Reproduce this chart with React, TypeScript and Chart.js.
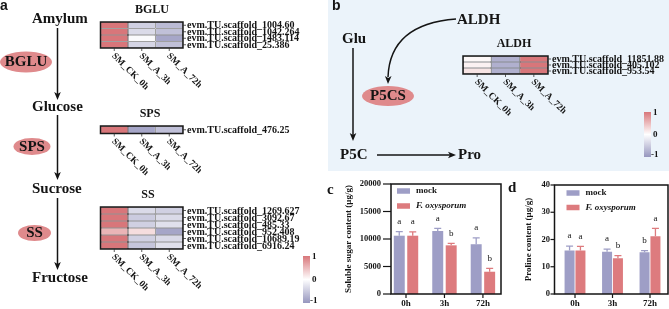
import React, { useEffect, useRef } from 'react';
import { Chart, registerables } from 'chart.js';
Chart.register(...registerables);

if (typeof document !== 'undefined') {
  document.body.style.margin = '0';
}

const SERIF = "'Liberation Serif', 'Times New Roman', serif";
const SANS = "'Liberation Sans', Arial, sans-serif";

// ---------------- data ----------------
const sampleLabels = ['SM_CK_0h', 'SM_A_3h', 'SM_A_72h'];

const bgluGenes = ['evm.TU.scaffold_1004.60', 'evm.TU.scaffold_1042.264', 'evm.TU.scaffold_1483.114', 'evm.TU.scaffold_25.386'];
const bgluValues = [
  [1, -0.45, -0.65],
  [1, -0.35, -0.6],
  [1, -0.05, -0.85],
  [1, -0.4, -0.6],
];

const spsGenes = ['evm.TU.scaffold_476.25'];
const spsValues = [[1, -0.85, -0.6]];

const ssGenes = [
  'evm.TU.scaffold_1269.627',
  'evm.TU.scaffold_3092.67',
  'evm.TU.scaffold_485.33',
  'evm.TU.scaffold_952.408',
  'evm.TU.scaffold_10689.19',
  'evm.TU.scaffold_6916.24',
];
const ssValues = [
  [1, -0.35, -0.45],
  [1, -0.5, -0.35],
  [1, -0.45, -0.3],
  [0.55, 0.25, -0.85],
  [1, -0.45, -0.35],
  [1, -0.55, -0.3],
];

const aldhGenes = ['evm.TU.scaffold_11851.88', 'evm.TU.scaffold_405.102', 'evm.TU.scaffold_953.54'];
const aldhValues = [
  [0.05, -0.75, 1],
  [0.1, -0.75, 1],
  [0.2, -0.75, 1],
];

const colorScaleLabels = ['1', '0', '-1'];

const timePoints = ['0h', '3h', '72h'];
const seriesNames = ['mock', 'F. oxysporum'];

const sugarMock = [10600, 11450, 9050];
const sugarMockErr = [750, 500, 1150];
const sugarFox = [10600, 8850, 4050];
const sugarFoxErr = [700, 370, 620];
const sugarMockSig = ['a', 'a', 'a'];
const sugarFoxSig = ['a', 'b', 'b'];
const sugarTicks = [0, 5000, 10000, 15000, 20000];

const prolineMock = [16.0, 15.5, 15.3];
const prolineMockErr = [1.6, 1.0, 0.6];
const prolineFox = [16.0, 13.1, 21.2];
const prolineFoxErr = [1.5, 1.0, 2.9];
const prolineMockSig = ['a', 'a', 'b'];
const prolineFoxSig = ['a', 'b', 'a'];
const prolineTicks = [0, 10, 20, 30, 40];

// ---------------- colours ----------------
const HI = [216, 118, 122];
const LO = [150, 150, 190];
const MOCK = '#9E9EC6';
const FOX = '#DD7B7E';
const ELLIPSE = '#DF8A8C';
const INK = '#141414';

function heatColor(v: number) {
  const t = Math.max(-1, Math.min(1, v));
  const c = t >= 0 ? HI : LO;
  const a = Math.abs(t);
  const m = (k: number) => Math.round(255 + (c[k] - 255) * a);
  return `rgb(${m(0)},${m(1)},${m(2)})`;
}

// ---------------- helpers ----------------
function text(ctx: CanvasRenderingContext2D, s: string, x: number, y: number, font: string, align: CanvasTextAlign = 'left') {
  ctx.font = font;
  ctx.textAlign = align;
  ctx.textBaseline = 'middle';
  ctx.fillStyle = INK;
  ctx.fillText(s, x, y);
}

function head(ctx: CanvasRenderingContext2D, tx: number, ty: number, dx: number, dy: number) {
  const len = Math.hypot(dx, dy);
  const ux = dx / len, uy = dy / len;
  const L = 8, W = 3.3;
  const bx = tx - ux * L, by = ty - uy * L;
  ctx.beginPath();
  ctx.moveTo(tx, ty);
  ctx.lineTo(bx - uy * W, by + ux * W);
  ctx.lineTo(bx + ux * 2, by + uy * 2);
  ctx.lineTo(bx + uy * W, by - ux * W);
  ctx.closePath();
  ctx.fill();
}

function arrow(ctx: CanvasRenderingContext2D, x1: number, y1: number, x2: number, y2: number) {
  const len = Math.hypot(x2 - x1, y2 - y1);
  const ux = (x2 - x1) / len, uy = (y2 - y1) / len;
  ctx.beginPath();
  ctx.moveTo(x1, y1);
  ctx.lineTo(x2 - ux * 6, y2 - uy * 6);
  ctx.stroke();
  head(ctx, x2, y2, ux, uy);
}

function ellipse(ctx: CanvasRenderingContext2D, cx: number, cy: number, rx: number, ry: number, label: string) {
  ctx.fillStyle = ELLIPSE;
  ctx.beginPath();
  ctx.ellipse(cx, cy, rx, ry, 0, 0, Math.PI * 2);
  ctx.fill();
  text(ctx, label, cx, cy + 0.5, `bold 15px ${SERIF}`, 'center');
}

function colorBar(ctx: CanvasRenderingContext2D, x: number, y: number, w: number, h: number) {
  const g = ctx.createLinearGradient(0, y, 0, y + h);
  g.addColorStop(0, `rgb(${HI.join(',')})`);
  g.addColorStop(0.5, '#ffffff');
  g.addColorStop(1, `rgb(${LO.join(',')})`);
  ctx.fillStyle = g;
  ctx.fillRect(x, y, w, h);
  const f = `bold 9px ${SERIF}`;
  text(ctx, colorScaleLabels[0], x + w + 2, y + 1, f);
  text(ctx, colorScaleLabels[1], x + w + 2, y + h / 2, f);
  text(ctx, colorScaleLabels[2], x + w, y + h - 2, f);
}

// ---------------- diagram (background) ----------------
const diagramPlugin = {
  id: 'diagram',
  beforeDraw(chart: any) {
    const ctx: CanvasRenderingContext2D = chart.ctx;
    ctx.save();
    ctx.fillStyle = '#ffffff';
    ctx.fillRect(0, 0, chart.width, chart.height);
    ctx.fillStyle = '#EBF3FA';
    ctx.fillRect(328, 0, chart.width - 328, 171);

    ctx.strokeStyle = INK;
    ctx.fillStyle = INK;
    ctx.lineWidth = 1.5;

    // panel a
    text(ctx, 'a', 0, 6, `bold 14px ${SANS}`);
    const big = `bold 15px ${SERIF}`;
    text(ctx, 'Amylum', 32, 19.5, big);
    text(ctx, 'Glucose', 32, 107, big);
    text(ctx, 'Sucrose', 32, 189, big);
    text(ctx, 'Fructose', 32, 278, big);
    ctx.fillStyle = INK;
    arrow(ctx, 57.5, 28, 57.5, 100);
    arrow(ctx, 57.5, 115, 57.5, 180);
    arrow(ctx, 57.5, 198, 57.5, 270);
    ellipse(ctx, 26, 62, 26, 10.5, 'BGLU');
    ellipse(ctx, 32, 146.5, 18.5, 8.5, 'SPS');
    ellipse(ctx, 34.5, 233, 16.5, 8, 'SS');
    colorBar(ctx, 303, 256, 7, 47);

    // panel b
    text(ctx, 'b', 332, 6, `bold 14px ${SANS}`);
    text(ctx, 'ALDH', 457, 20, big);
    text(ctx, 'Glu', 342, 39.5, big);
    text(ctx, 'P5C', 340, 155, big);
    text(ctx, 'Pro', 458, 155, big);
    ctx.strokeStyle = INK;
    ctx.fillStyle = INK;
    ctx.lineWidth = 1.5;
    arrow(ctx, 353, 48, 353, 141);
    arrow(ctx, 377, 155, 456, 155);
    ctx.beginPath();
    ctx.moveTo(456, 19);
    ctx.quadraticCurveTo(390, 24, 388, 77);
    ctx.stroke();
    head(ctx, 388, 84, -0.03, 1);
    ellipse(ctx, 388, 96, 26, 10, 'P5CS');
    colorBar(ctx, 644, 112, 7, 45);

    // panel c / d letters
    text(ctx, 'c', 327, 190, `bold 15px ${SERIF}`);
    text(ctx, 'd', 508, 188, `bold 15px ${SERIF}`);
    ctx.restore();
  },
};

function Diagram() {
  const ref = useRef<HTMLCanvasElement>(null);
  useEffect(() => {
    const chart = new Chart(ref.current!, {
      type: 'scatter',
      data: { datasets: [] },
      options: {
        animation: false,
        responsive: false,
        events: [],
        scales: { x: { display: false }, y: { display: false } },
        plugins: { legend: { display: false }, tooltip: { enabled: false } },
      },
      plugins: [diagramPlugin],
    } as any);
    return () => chart.destroy();
  }, []);
  return <canvas ref={ref} width={669} height={309} style={{ position: 'absolute', left: 0, top: 0, width: 669, height: 309 }} />;
}

// ---------------- heatmap ----------------
type HeatProps = {
  left: number; top: number; width: number; height: number;
  cellLeft: number; cellTop: number; cellW: number; cellH: number;
  title: string; titleX: number; titleY: number;
  genes: string[]; values: number[][];
};

function Heatmap(p: HeatProps) {
  const ref = useRef<HTMLCanvasElement>(null);
  useEffect(() => {
    const padL = p.cellLeft - p.left;
    const padT = p.cellTop - p.top;
    const padR = p.left + p.width - (p.cellLeft + p.cellW);
    const padB = p.top + p.height - (p.cellTop + p.cellH);
    const labels = {
      id: 'heatLabels',
      afterDatasetsDraw(chart: any) {
        const ctx: CanvasRenderingContext2D = chart.ctx;
        const { left, right, top, bottom } = chart.chartArea;
        const xs = chart.scales.x, ys = chart.scales.y;
        ctx.save();
        ctx.strokeStyle = '#1a1a1a';
        ctx.lineWidth = 1.5;
        ctx.strokeRect(left, top, right - left, bottom - top);
        text(ctx, p.title, p.titleX - p.left, p.titleY - p.top, `bold 12px ${SERIF}`, 'center');
        ctx.strokeStyle = '#333';
        ctx.lineWidth = 0.8;
        p.genes.forEach((g, i) => {
          const y = ys.getPixelForValue(i + 0.5);
          ctx.beginPath();
          ctx.moveTo(right, y);
          ctx.lineTo(right + 3, y);
          ctx.stroke();
          text(ctx, g, right + 4, y + 0.5, `bold 10px ${SERIF}`);
        });
        sampleLabels.forEach((s, j) => {
          const x = xs.getPixelForValue(j);
          ctx.beginPath();
          ctx.moveTo(x, bottom);
          ctx.lineTo(x, bottom + 3);
          ctx.stroke();
          ctx.save();
          ctx.translate(x - 1, bottom + 6.5);
          ctx.rotate(Math.PI / 4);
          text(ctx, s, 0, 0, `bold 9.5px ${SERIF}`);
          ctx.restore();
        });
        ctx.restore();
      },
    };
    const chart = new Chart(ref.current!, {
      type: 'bar',
      data: {
        labels: sampleLabels,
        datasets: p.genes.map((g, i) => ({
          label: g,
          data: sampleLabels.map(() => 1),
          backgroundColor: p.values[i].map(heatColor),
          borderColor: '#2a2a2a',
          borderWidth: 0.6,
          borderSkipped: false,
          barPercentage: 1,
          categoryPercentage: 1,
          inflateAmount: 0,
        })),
      },
      options: {
        animation: false,
        responsive: false,
        events: [],
        layout: { padding: { left: padL, top: padT, right: padR, bottom: padB } },
        scales: {
          x: { display: false, stacked: true },
          y: { display: false, stacked: true, reverse: true, min: 0, max: p.genes.length },
        },
        plugins: { legend: { display: false }, tooltip: { enabled: false } },
      },
      plugins: [labels],
    } as any);
    return () => chart.destroy();
  }, []);
  return <canvas ref={ref} width={p.width} height={p.height} style={{ position: 'absolute', left: p.left, top: p.top, width: p.width, height: p.height }} />;
}

// ---------------- bar chart ----------------
type BarProps = {
  left: number; top: number; width: number; height: number;
  area: { l: number; t: number; r: number; b: number };
  mock: number[]; mockErr: number[]; fox: number[]; foxErr: number[];
  mockSig: string[]; foxSig: string[];
  ticks: number[]; xMin: number; xMax: number;
  yTitle: string; catPct: number; barPct: number;
  tickLen: number; tickPad: number; titleX: number;
  legendX: number; legendY: number[];
};

function BarPanel(p: BarProps) {
  const ref = useRef<HTMLCanvasElement>(null);
  useEffect(() => {
    const extras = {
      id: 'barExtras',
      afterDatasetsDraw(chart: any) {
        const ctx: CanvasRenderingContext2D = chart.ctx;
        const { left, right, top, bottom } = chart.chartArea;
        const xs = chart.scales.x, ys = chart.scales.y;
        ctx.save();
        ctx.strokeStyle = INK;
        ctx.lineWidth = 1.5;
        ctx.beginPath();
        ctx.moveTo(left, top);
        ctx.lineTo(right, top);
        ctx.lineTo(right, bottom);
        ctx.lineTo(left, bottom);
        ctx.closePath();
        ctx.stroke();
        ctx.lineWidth = 1.2;
        p.ticks.forEach((v) => {
          const y = ys.getPixelForValue(v);
          ctx.beginPath();
          ctx.moveTo(left - p.tickLen, y);
          ctx.lineTo(left, y);
          ctx.stroke();
          text(ctx, String(v), left - p.tickLen - p.tickPad, y, `bold 8.5px ${SERIF}`, 'right');
        });
        timePoints.forEach((t, i) => {
          const x = xs.getPixelForValue(i);
          ctx.beginPath();
          ctx.moveTo(x, bottom);
          ctx.lineTo(x, bottom + 4);
          ctx.stroke();
          text(ctx, t, x, bottom + 10, `bold 9px ${SERIF}`, 'center');
        });
        ctx.save();
        ctx.translate(p.titleX - p.left, (top + bottom) / 2);
        ctx.rotate(-Math.PI / 2);
        text(ctx, p.yTitle, 0, 0, `bold 9px ${SERIF}`, 'center');
        ctx.restore();

        const groups = [
          { vals: p.mock, errs: p.mockErr, sig: p.mockSig, color: MOCK },
          { vals: p.fox, errs: p.foxErr, sig: p.foxSig, color: FOX },
        ];
        groups.forEach((g, d) => {
          const meta = chart.getDatasetMeta(d);
          g.vals.forEach((v, i) => {
            const x = meta.data[i].x;
            const y0 = ys.getPixelForValue(v);
            const y1 = ys.getPixelForValue(v + g.errs[i]);
            ctx.strokeStyle = g.color;
            ctx.lineWidth = 1.3;
            ctx.beginPath();
            ctx.moveTo(x, y0);
            ctx.lineTo(x, y1);
            ctx.moveTo(x - 3.5, y1);
            ctx.lineTo(x + 3.5, y1);
            ctx.stroke();
            text(ctx, g.sig[i], x, y1 - 10, `9px ${SERIF}`, 'center');
          });
        });
        const lx = p.legendX - p.left;
        [MOCK, FOX].forEach((c, k) => {
          const ly = p.legendY[k] - p.top;
          ctx.fillStyle = c;
          ctx.fillRect(lx, ly - 2.75, 13, 5.5);
          text(ctx, seriesNames[k], lx + 19, ly, k === 0 ? `bold 9px ${SERIF}` : `italic bold 9px ${SERIF}`);
        });
        ctx.restore();
      },
    };
    const chart = new Chart(ref.current!, {
      type: 'bar',
      data: {
        datasets: [
          { label: seriesNames[0], data: p.mock.map((v, i) => ({ x: i, y: v })), backgroundColor: MOCK, barPercentage: p.barPct, categoryPercentage: p.catPct },
          { label: seriesNames[1], data: p.fox.map((v, i) => ({ x: i, y: v })), backgroundColor: FOX, barPercentage: p.barPct, categoryPercentage: p.catPct },
        ],
      },
      options: {
        animation: false,
        responsive: false,
        events: [],
        layout: {
          padding: {
            left: p.area.l - p.left,
            top: p.area.t - p.top,
            right: p.left + p.width - p.area.r,
            bottom: p.top + p.height - p.area.b,
          },
        },
        scales: {
          x: { type: 'linear', display: false, offset: false, min: p.xMin, max: p.xMax, grid: { offset: false } },
          y: { type: 'linear', display: false, min: p.ticks[0], max: p.ticks[p.ticks.length - 1] },
        },
        plugins: { legend: { display: false }, tooltip: { enabled: false } },
      },
      plugins: [extras],
    } as any);
    return () => chart.destroy();
  }, []);
  return <canvas ref={ref} width={p.width} height={p.height} style={{ position: 'absolute', left: p.left, top: p.top, width: p.width, height: p.height }} />;
}

export default function App() {
  return (
    <div style={{ position: 'relative', width: 669, height: 309, overflow: 'hidden', background: '#fff' }}>
      <Diagram />
      <Heatmap left={90} top={0} width={240} height={100} cellLeft={100.5} cellTop={22} cellW={82.5} cellH={26}
        title="BGLU" titleX={152} titleY={10} genes={bgluGenes} values={bgluValues} />
      <Heatmap left={90} top={104} width={240} height={80} cellLeft={100.5} cellTop={126} cellW={82.5} cellH={7.5}
        title="SPS" titleX={150} titleY={114} genes={spsGenes} values={spsValues} />
      <Heatmap left={90} top={185} width={215} height={124} cellLeft={100.5} cellTop={207} cellW={82.5} cellH={42}
        title="SS" titleX={148} titleY={194.5} genes={ssGenes} values={ssValues} />
      <Heatmap left={445} top={30} width={224} height={100} cellLeft={463} cellTop={56} cellW={85} cellH={18}
        title="ALDH" titleX={514} titleY={44} genes={aldhGenes} values={aldhValues} />
      <BarPanel left={330} top={172} width={175} height={137} area={{ l: 391, t: 184, r: 501, b: 294 }}
        mock={sugarMock} mockErr={sugarMockErr} fox={sugarFox} foxErr={sugarFoxErr}
        mockSig={sugarMockSig} foxSig={sugarFoxSig} ticks={sugarTicks}
        xMin={-0.39} xMax={2.47} yTitle="Soluble sugar content (μg/g)" catPct={0.7} barPct={0.815}
        tickLen={8} tickPad={2} titleX={349} legendX={397} legendY={[191, 206]} />
      <BarPanel left={505} top={172} width={164} height={137} area={{ l: 554.5, t: 185, r: 668, b: 294 }}
        mock={prolineMock} mockErr={prolineMockErr} fox={prolineFox} foxErr={prolineFoxErr}
        mockSig={prolineMockSig} foxSig={prolineFoxSig} ticks={prolineTicks}
        xMin={-0.547} xMax={2.48} yTitle="Proline content (μg/g)" catPct={0.58} barPct={0.92}
        tickLen={4} tickPad={0.5} titleX={529} legendX={566.5} legendY={[193, 207.5]} />
    </div>
  );
}
